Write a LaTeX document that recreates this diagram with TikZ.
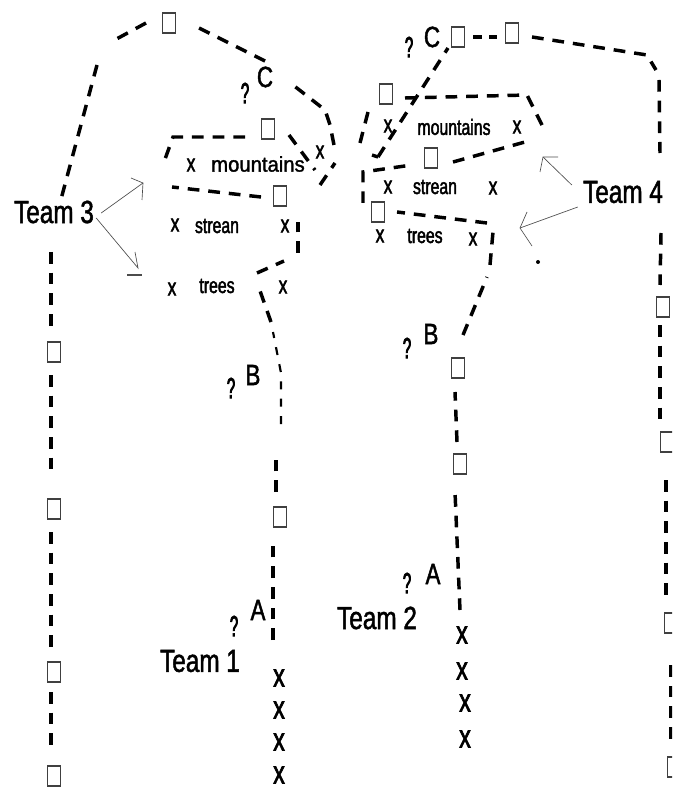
\documentclass[tikz,border=0pt]{standalone}
\usepackage{fontspec}
\setmainfont{Liberation Sans}
\newfontfamily\teamf[FakeStretch=0.76,FakeBold=1.5]{Liberation Sans}
\newfontfamily\midf[FakeStretch=0.72,FakeBold=2]{Liberation Sans}
\newfontfamily\widef[FakeStretch=0.95,FakeBold=1.5]{Liberation Sans}
\newfontfamily\qf[FakeStretch=0.5,FakeBold=2.5]{Liberation Sans}
\tikzset{
  route/.style={line width=2.6pt,dash pattern=on 8.8pt off 6.7pt,black},
  shortroute/.style={line width=2.6pt,dash pattern=on 7pt off 5pt,black},
  thinroute/.style={line width=1.6pt,dash pattern=on 6pt off 7pt,black},
  sq/.style={draw=black!75,line width=0.8pt,fill=white,minimum width=9.5pt,minimum height=15pt,inner sep=0pt,outer sep=0pt},
  team/.style={font=\teamf\fontsize{24}{24}\selectfont,inner sep=0pt,outer sep=1pt},
  letter/.style={font=\teamf\fontsize{22}{22}\selectfont,inner sep=0pt},
  qm/.style={font=\qf\fontsize{22}{22}\selectfont,inner sep=0pt},
  word/.style={font=\midf\fontsize{16.5}{16.5}\selectfont,inner sep=0pt},
  wordw/.style={font=\widef\fontsize{16}{16}\selectfont,inner sep=0pt},
  xs/.style={font=\midf\fontsize{18}{18}\selectfont,inner sep=0pt},
  xb/.style={font=\midf\fontsize{24}{24}\selectfont,inner sep=0pt},
  pointer/.style={line width=0.5pt,black!70},
}
\begin{document}
\begin{tikzpicture}[x=0.75pt,y=-0.75pt]
\useasboundingbox (0,0) rectangle (672,791);
\clip (0,0) rectangle (672,791);
% squares
\node[sq] (s1) at (280,517) {};
\node[sq] (s2) at (280,196) {};
\node[sq] (s3) at (169,23) {};
\node[sq] (s4) at (268,129) {};
\node[sq] (l1) at (54,352) {};
\node[sq] (l2) at (54,509) {};
\node[sq] (l3) at (54,672) {};
\node[sq] (l4) at (54,776) {};
\node[sq] (t1) at (458,368) {};
\node[sq] (t2) at (460,464) {};
\node[sq] (t3) at (458,37) {};
\node[sq] (t4) at (512,33) {};
\node[sq] (t5) at (386,94) {};
\node[sq] (t6) at (431,158) {};
\node[sq] (t7) at (378,212) {};
\node[sq] (r1) at (663,307) {};
\node[sq] (r2) at (667,442) {};
\node[sq] (r3) at (671,623) {};
\node[sq] (r4) at (674,767) {};
% team labels
\node[team] (team1) at (200,661) {Team 1};
\node[team] (team2) at (377,618) {Team 2};
\node[team] (team3) at (54,212) {Team 3};
\node[team] (team4) at (623,192) {Team 4};
% letters
\node[letter] (lA1) at (258,610) {A};
\node[qm] (qA1) at (234,626) {?};
\node[letter] (lB1) at (253,375) {B};
\node[qm] (qB1) at (231,388) {?};
\node[letter] (lC1) at (265,77) {C};
\node[qm] (qC1) at (245,93) {?};
\node[letter] (lA2) at (433,574) {A};
\node[qm] (qA2) at (407,583) {?};
\node[letter] (lB2) at (431,334) {B};
\node[qm] (qB2) at (407,348) {?};
\node[letter] (lC2) at (432,37) {C};
\node[qm] (qC2) at (409,47) {?};
% words
\node[wordw] (m1) at (258,164) {mountains};
\node[word] (st1) at (217,226) {strean};
\node[word] (tr1) at (217,286) {trees};
\node[word] (m2) at (454,127) {mountains};
\node[word] (st2) at (435,187) {strean};
\node[word] (tr2) at (425,236) {trees};
% x marks
\foreach \n/\px/\py in {x1/191/165,x2/320/152,x3/175/225,x4/285/226,x5/172/289,x6/283/287,
  x7/388/126,x8/517/127,x9/388/187,x10/493/188,x11/380/236,x12/473/239}
  \node[xs] (\n) at (\px,\py) {x};
\foreach \n/\px/\py in {b1/279/678,b2/279/710,b3/279/742,b4/279/775,
  b5/462/635,b6/462/671,b7/465/703,b8/465/739}
  \node[xb] (\n) at (\px,\py) {x};
% free-end coordinates
\coordinate (a1) at (273,640);
\coordinate (a2) at (273,544);
\coordinate (a3) at (276,492);
\coordinate (a4) at (276,458);
\coordinate (a5) at (281,424);
\coordinate (a6) at (281,373);
\coordinate (a7) at (273,332);
\coordinate (a8) at (271,322);
\coordinate (a9) at (259,288);
\coordinate (a10) at (257,273);
\coordinate (a11) at (284,261);
\coordinate (a12) at (298,253);
\coordinate (a13) at (298,222);
\coordinate (a14) at (261,197);
\coordinate (a15) at (172,187);
\coordinate (a16) at (320,185);
\coordinate (a17) at (335,163);
\coordinate (a18) at (334,145);
\coordinate (a19) at (330,125);
\coordinate (a20) at (325,110);
\coordinate (a21) at (293,85);
\coordinate (a22) at (265,61);
\coordinate (a23) at (195,26);
\coordinate (a24) at (146,23);
\coordinate (a25) at (111,42);
\coordinate (a26) at (97,65);
\coordinate (a27) at (60,203);
\coordinate (a28) at (245,137);
\coordinate (a29) at (173,137);
\coordinate (a30) at (164,162);
\coordinate (a31) at (289,135);
\coordinate (a32) at (315,170);
% team 3 column
\coordinate (c1) at (51,252);
\coordinate (c2) at (51,334);
\coordinate (c3) at (51,375);
\coordinate (c4) at (51,470);
\coordinate (c5) at (51,532);
\coordinate (c6) at (51,648);
\coordinate (c7) at (51,692);
\coordinate (c8) at (51,746);
% team 2 route
\coordinate (d1) at (460,610);
\coordinate (d2) at (455,492);
\coordinate (d3) at (457,442);
\coordinate (d4) at (455,392);
\coordinate (d5) at (463,335);
\coordinate (d6) at (487,277);
\coordinate (d7) at (490,265);
\coordinate (d8) at (493,232);
\coordinate (d9) at (487,223);
\coordinate (d10) at (397,212);
\coordinate (d11) at (363,203);
\coordinate (d12) at (363,172);
\coordinate (d13) at (412,165);
\coordinate (d14) at (453,162);
\coordinate (d15) at (525,142);
\coordinate (d16) at (542,125);
\coordinate (d17) at (527,95);
\coordinate (d18) at (405,98);
\coordinate (d19) at (368,112);
\coordinate (d20) at (360,143);
\coordinate (d21) at (372,155);
\coordinate (d22) at (378,157);
\coordinate (d23) at (448,48);
\coordinate (d24) at (473,37);
\coordinate (d25) at (497,37);
\coordinate (d26) at (532,37);
\coordinate (d27) at (647,55);
\coordinate (d28) at (656,70);
\coordinate (d29) at (659,80);
\coordinate (d30) at (660,153);
\coordinate (d31) at (661,233);
\coordinate (d32) at (660,285);
\coordinate (d33) at (660,325);
\coordinate (d34) at (660,420);
\coordinate (d35) at (666,480);
\coordinate (d36) at (666,598);
\coordinate (d37) at (671,665);
\coordinate (d38) at (671,740);
% routes
\draw[route] (a1) -- (a2);
\draw[route] (a3) -- (a4);
\draw[thinroute] (a5) -- (a6) -- (a7);
\draw[route] (a8) -- (a9);
\draw[route] (a10) -- (a11);
\draw[route] (a12) -- (a13);
\draw[route] (a14) -- (a15);
\draw[route] (a16) -- (a17);
\draw[route] (a18) -- (a19) -- (a20) -- (a21);
\draw[route] (a22) -- (a23);
\draw[route] (a24) -- (a25);
\draw[route] (a26) -- (a27);
\draw[route] (a28) -- (a29) -- (a30);
\draw[route] (a31) -- (a32);
\draw[route] (c1) -- (c2);
\draw[route] (c3) -- (c4);
\draw[route] (c5) -- (c6);
\draw[route] (c7) -- (c8);
\draw[route] (d1) -- (d2);
\draw[route] (d3) -- (d4);
\draw[route] (d5) -- (d6);
\draw[route] (d7) -- (d8);
\draw[route] (d9) -- (d10);
\draw[route] (d11) -- (d12) -- (d13);
\draw[route] (d14) -- (d15);
\draw[route] (d16) -- (d17) -- (d18);
\draw[route] (d19) -- (d20);
\draw[route] (d21) -- (d22);
\draw[route] (d22) -- (d23);
\draw[shortroute] (d24) -- (d25);
\draw[route] (d26) -- (d27) -- (d28);
\draw[route] (d29) -- (d30);
\draw[route] (d31) -- (d32);
\draw[route] (d33) -- (d34);
\draw[route] (d35) -- (d36);
\draw[route] (d37) -- (d38);
% pointers
\coordinate (p1) at (143,183);
\coordinate (p1a) at (131,178);
\coordinate (p1b) at (142,200);
\coordinate (p2) at (138,268);
\coordinate (p2a) at (135,252);
\coordinate (p2b) at (127,275);
\coordinate (p2c) at (142,275);
\coordinate (p3) at (543,157);
\coordinate (p3a) at (558,157);
\coordinate (p3b) at (540,172);
\coordinate (p4) at (520,228);
\coordinate (p4a) at (527,212);
\coordinate (p4b) at (532,246);
\coordinate (dot) at (538,262);
\draw[pointer] ([shift={(6,1)}]team3.east) -- (p1);
\draw[pointer] (p1a) -- (p1) -- (p1b);
\draw[pointer] ([shift={(1,6)}]team3.east) -- (p2) -- (p2a);
\draw[pointer,line width=1pt] (p2b) -- (p2c);
\draw[pointer] ([shift={(-10,-7)}]team4.west) -- (p3);
\draw[pointer] (p3a) -- (p3) -- (p3b);
\draw[pointer] ([shift={(-4,15)}]team4.west) -- (p4);
\draw[pointer] (p4a) -- (p4) -- (p4b);
\fill[black] (dot) circle (1.5pt);
\end{tikzpicture}
\end{document}
